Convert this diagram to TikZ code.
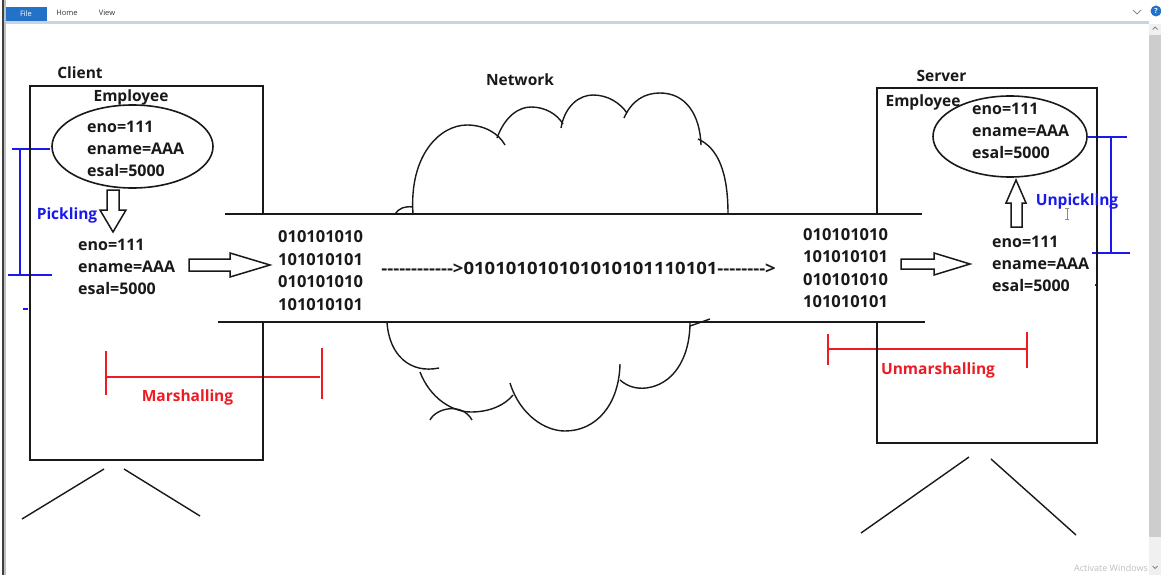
\documentclass[tikz,border=0pt]{standalone}
\usepackage{fontspec}
\setmainfont{Open Sans}
\usetikzlibrary{shapes.geometric}
\definecolor{pblue}{RGB}{25,25,235}
\definecolor{mred}{RGB}{237,28,36}
\definecolor{tabblue}{RGB}{36,114,200}
\definecolor{sepgray}{RGB}{200,212,230}
\definecolor{sbgray}{RGB}{240,240,240}
\definecolor{thumbgray}{RGB}{205,205,205}
\definecolor{ink}{RGB}{25,25,25}
\begin{document}
\begin{tikzpicture}[x=1pt,y=-1pt,
  lbl/.style={font=\fontsize{15.5}{22}\selectfont\bfseries, inner sep=0pt, text=ink},
  fields/.style={lbl, font=\fontsize{16}{22}\selectfont\bfseries, align=left, anchor=west},
  bits/.style={lbl, font=\fontsize{16.5}{22.5}\selectfont\bfseries, align=left, anchor=west},
  boxline/.style={draw=ink, line width=1.8pt},
  thin/.style={draw=ink, line width=1.4pt},
  blk/.style={draw=ink, line width=1.5pt, fill=white, line join=miter},
  bluebar/.style={draw=pblue, line width=1.8pt},
  redbar/.style={draw=mred, line width=1.8pt},
  ui/.style={font=\fontsize{7.5}{9}\selectfont, inner sep=0pt}
]
\useasboundingbox (0,0) rectangle (1161,575);
\fill[white] (0,0) rectangle (1161,575);

% ---------- window chrome ----------
\fill[tabblue] (5,7) rectangle (47,21);
\node[ui, text=white] (tabfile) at (26,14) {File};
\node[ui, text=black!80] (tabhome) at (67,13) {Home};
\node[ui, text=black!80] (tabview) at (107,13) {View};
\fill[sepgray] (5,21) rectangle (1149,24);
\fill[black!75] (2,0) rectangle (4,575);
\fill[black!25] (4,0) rectangle (6,575);
\draw[black!45, line width=0.8pt] (1133,10) -- (1137,14) -- (1141,10);
\fill[tabblue] (1156,11) circle (5.5);
\node[ui, text=white, font=\fontsize{7}{8}\selectfont\bfseries] (help) at (1156,11) {?};
\fill[sbgray] (1149,24) rectangle (1161,575);
\fill[thumbgray] (1149,35) rectangle (1161,537);
\draw[black!55, line width=0.7pt] (1152.5,29.5) -- (1155,27) -- (1157.5,29.5);
\draw[black!55, line width=0.7pt] (1152.5,566) -- (1155,568.5) -- (1157.5,566);
\node[font=\fontsize{9}{10}\selectfont, text=black!25, anchor=west, inner sep=0pt] (activate) at (1074,568) {Activate Windows};

% ---------- brackets ----------
\draw[bluebar] (12,149) -- (50,149);
\draw[bluebar] (20,149) -- (20,275);
\draw[bluebar] (8,275) -- (52,275);
\draw[bluebar] (23,309) -- (28,309);
\draw[bluebar] (1088,137) -- (1127,137);
\draw[bluebar] (1111,137) -- (1111,253);
\draw[bluebar] (1092,253) -- (1130,253);
\draw[bluebar] (1096,284) -- (1096,286);

\draw[redbar] (106,351) -- (106,395);
\draw[redbar] (106,377) -- (320,377);
\draw[redbar] (322,348) -- (322,399);
\draw[redbar] (828,334) -- (828,365);
\draw[redbar] (828,349) -- (1027,349);
\draw[redbar] (1027,332) -- (1027,368);

% ---------- client & server boxes ----------
\node[boxline, rectangle, minimum width=233, minimum height=374, inner sep=0pt] (cbox) at (146.5,273) {};
\node[boxline, rectangle, minimum width=220, minimum height=355, inner sep=0pt] (sbox) at (987,265.5) {};

% legs
\draw[thin] (104,469) -- (22,519);
\draw[thin] (124,469) -- (200,516);
\draw[thin] (969,457) -- (861,533);
\draw[thin] (991,459) -- (1076,535);

% ---------- network band ----------
\fill[white] (218,214) rectangle (925,322);

% cloud, upper part
\draw[thin] (395,214) .. controls (399,208) and (405,206) .. (413,207);
\draw[thin] (413,214) .. controls (409,155) and (440,125) .. (467,125) .. controls (485,125) and (499,134) .. (505,145);
\draw[thin] (497,138) .. controls (505,116) and (519,107) .. (531,107) .. controls (545,107) and (557,114) .. (563,124);
\draw[thin] (561,128) .. controls (565,105) and (580,95) .. (593,95) .. controls (608,95) and (620,103) .. (627,113);
\draw[thin] (624,118) .. controls (632,100) and (645,93) .. (660,93) .. controls (686,93) and (700,115) .. (701,145);
\draw[thin] (698,139) .. controls (718,148) and (728,172) .. (728,214);
% cloud, lower part
\draw[thin] (387,322) .. controls (389,355) and (410,374) .. (439,368);
\draw[thin] (420,372) .. controls (430,398) and (452,412) .. (471,412) .. controls (490,412) and (505,405) .. (513,395);
\draw[thin] (430,420) .. controls (436,408) and (462,402) .. (472,420);
\draw[thin] (510,383) .. controls (520,415) and (545,431) .. (565,431) .. controls (596,431) and (619,405) .. (620,364);
\draw[thin] (620,380) .. controls (628,387) and (637,389) .. (646,388) .. controls (672,385) and (690,360) .. (690,322);
\draw[thin] (690,326) -- (710,319);

\draw[boxline] (225,214) -- (922,214);
\draw[boxline] (218,322) -- (925,322);

% ---------- labels ----------
\node[lbl] (client) at (80,73) {Client};
\node[lbl] (server) at (941.5,76) {Server};
\node[lbl] (network) at (520,80) {Network};
\node[lbl] (cemp) at (131,97) {Employee};
\node[lbl] (semp) at (923,102) {Employee};

% client object
\node[draw=ink, line width=1.6pt, ellipse, minimum width=161, minimum height=83, inner sep=0pt] (cobj) at (132.5,146.5) {};
\node[fields] (cfields) at (87,149) {eno=111\\ename=AAA\\esal=5000};
\node[fields] (cflat) at (78,266.5) {eno=111\\ename=AAA\\esal=5000};
\node[lbl, text=pblue] (pick) at (67,215) {Pickling};

% server object
\node[draw=ink, line width=1.6pt, ellipse, minimum width=154, minimum height=81, inner sep=0pt] (sobj) at (1010,136.5) {};
\node[fields] (sfields) at (972,131) {eno=111\\ename=AAA\\esal=5000};
\node[fields] (sflat) at (992,263.5) {eno=111\\ename=AAA\\esal=5000};
\node[lbl, text=pblue] (unpick) at (1077,201) {Unpickling};

% I-beam cursor
\draw[black!45, line width=0.8pt] (1067,208) -- (1067,219);
\draw[black!45, line width=0.8pt] (1065,208) -- (1069,208);
\draw[black!45, line width=0.8pt] (1065,219) -- (1069,219);

% bits
\node[bits] (cbits) at (278,270.5) {010101010\\101010101\\010101010\\101010101};
\node[bits] (sbits) at (803,268) {010101010\\101010101\\010101010\\101010101};
\node[lbl, font=\fontsize{17}{20}\selectfont\bfseries] (stream) at (578.5,268) {\scalebox{1.09}[1]{-{}-{}-{}-{}-{}-{}-{}-{}-{}-{}-{}->010101010101010101110101-{}-{}-{}-{}-{}-{}-{}->}};

\node[lbl, text=mred] (marsh) at (187.5,397) {Marshalling};
\node[lbl, text=mred] (unmarsh) at (938,370) {Unmarshalling};

% block arrows
\draw[blk] (107,190) -- (119,190) -- (119,210) -- (126,210) -- (113,232) -- (100,210) -- (107,210) -- cycle;
\draw[blk] (189,259) -- (230,259) -- (230,253) -- (270,265) -- (230,277) -- (230,271) -- (189,271) -- cycle;
\draw[blk] (901,259) -- (934,259) -- (934,253) -- (970,264) -- (934,275) -- (934,269) -- (901,269) -- cycle;
\draw[blk] (1011,227) -- (1011,203) -- (1006,203) -- (1016,180) -- (1026,203) -- (1022,203) -- (1022,227) -- cycle;
\end{tikzpicture}
\end{document}
